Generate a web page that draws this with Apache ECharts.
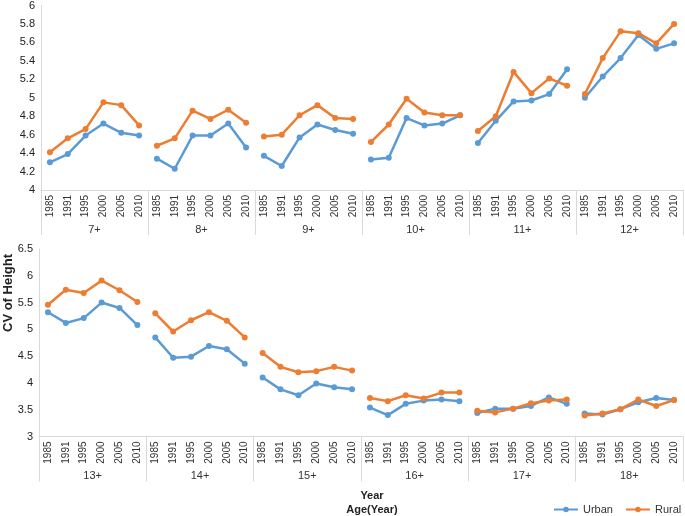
<!DOCTYPE html>
<html><head><meta charset="utf-8">
<script src="https://cdn.jsdelivr.net/npm/echarts@6/dist/echarts.min.js"></script>
<style>html,body{margin:0;padding:0;background:#fff}#c{width:685px;height:516px}</style>
</head><body><div id="c"></div>
<script>
const years = ['1985','1991','1995','2000','2005','2010'];
const groupsTop = ['7+','8+','9+','10+','11+','12+'];
const groupsBottom = ['13+','14+','15+','16+','17+','18+'];
const urbanTop = [
  [4.30,4.39,4.59,4.72,4.62,4.59],
  [4.34,4.23,4.59,4.59,4.72,4.46],
  [4.37,4.26,4.57,4.71,4.65,4.61],
  [4.33,4.35,4.78,4.70,4.72,4.81],
  [4.51,4.75,4.96,4.97,5.04,5.31],
  [5.00,5.23,5.43,5.68,5.53,5.59]
];
const ruralTop = [
  [4.41,4.56,4.66,4.95,4.92,4.70],
  [4.48,4.56,4.86,4.77,4.87,4.73],
  [4.58,4.60,4.81,4.92,4.78,4.77],
  [4.52,4.71,4.99,4.84,4.81,4.81],
  [4.64,4.80,5.28,5.05,5.21,5.13],
  [5.04,5.43,5.72,5.70,5.59,5.80]
];
const urbanBottom = [
  [5.32,5.12,5.21,5.50,5.40,5.08],
  [4.85,4.47,4.49,4.69,4.63,4.36],
  [4.10,3.88,3.77,3.99,3.92,3.88],
  [3.54,3.40,3.61,3.67,3.69,3.66],
  [3.44,3.52,3.52,3.57,3.73,3.61],
  [3.43,3.41,3.51,3.64,3.72,3.68]
];
const ruralBottom = [
  [5.46,5.74,5.68,5.91,5.73,5.51],
  [5.30,4.96,5.17,5.32,5.16,4.85],
  [4.56,4.30,4.20,4.22,4.30,4.23],
  [3.72,3.66,3.77,3.71,3.82,3.82],
  [3.48,3.45,3.52,3.62,3.67,3.69],
  [3.39,3.43,3.51,3.69,3.57,3.68]
];

const URBAN = '#5B9BD5', RURAL = '#ED7D31', GRID = '#d9d9d9';
const font = 'Liberation Sans, Arial, sans-serif';

function yearCats(groups){ const c=[]; groups.forEach(g=>years.forEach(y=>c.push(y+'|'+g))); return c; }

function xAxesFor(gridIndex, groups){
  return [
    {type:'category', gridIndex, data: yearCats(groups), boundaryGap:true,
     axisLine:{show:true,lineStyle:{color:GRID,width:1}}, axisTick:{show:false},
     axisLabel:{interval:0, rotate:90, fontSize:10, color:'#333', fontFamily:font, margin:5,
       formatter:v=>v.split('|')[0]}},
    {type:'category', gridIndex, data: groups, position:'bottom', boundaryGap:true,
     axisLine:{show:false}, axisTick:{show:true, length:45, interval:0, lineStyle:{color:GRID,width:1}},
     axisLabel:{interval:0, fontSize:11, color:'#333', fontFamily:font, margin:34}}
  ];
}

const series = [];
function addSeries(arrs, name, color, xAxisIndex, yAxisIndex){
  arrs.forEach((vals, g)=>{
    series.push({name, type:'line', xAxisIndex, yAxisIndex, color,
      data: vals.map((v,i)=>[g*6+i, v]),
      symbol:'circle', symbolSize:6, lineStyle:{width:2.5, color}, itemStyle:{color},
      emphasis:{disabled:true}, animation:false});
  });
}
addSeries(urbanTop,'Urban',URBAN,0,0);
addSeries(ruralTop,'Rural',RURAL,0,0);
addSeries(urbanBottom,'Urban',URBAN,2,1);
addSeries(ruralBottom,'Rural',RURAL,2,1);

const chart = echarts.init(document.getElementById('c'), null, {renderer:'canvas'});
chart.setOption({
  backgroundColor:'#fff',
  animation:false,
  grid:[
    {left:41, top:5, width:642, height:185},
    {left:39, top:249, width:644, height:187.5}
  ],
  xAxis:[...xAxesFor(0, groupsTop), ...xAxesFor(1, groupsBottom)],
  yAxis:[
    {type:'value', gridIndex:0, min:4, max:6, interval:0.2,
     axisLine:{show:true,lineStyle:{color:GRID}}, axisTick:{show:false}, splitLine:{show:false},
     axisLabel:{fontSize:11, color:'#222', fontFamily:font, margin:6}},
    {type:'value', gridIndex:1, min:3, max:6.5, interval:0.5,
     axisLine:{show:true,lineStyle:{color:GRID}}, axisTick:{show:false}, splitLine:{show:false},
     axisLabel:{fontSize:11, color:'#222', fontFamily:font, margin:6}}
  ],
  legend:{data:['Urban','Rural'], left:553, top:504, itemWidth:24, itemHeight:7, itemGap:12, padding:0,
    textStyle:{fontSize:11, color:'#333', fontFamily:font}},
  graphic:[
    {type:'text', x:8, y:293, rotation:Math.PI/2,
     style:{text:'CV of Height', font:'bold 13px '+font, fill:'#222', textAlign:'center', textVerticalAlign:'middle'}},
    {type:'text', x:372, y:496, style:{text:'Year', font:'bold 11px '+font, fill:'#222', textAlign:'center', textVerticalAlign:'middle'}},
    {type:'text', x:372, y:510, style:{text:'Age(Year)', font:'bold 11px '+font, fill:'#222', textAlign:'center', textVerticalAlign:'middle'}}
  ],
  series
});
</script></body></html>
